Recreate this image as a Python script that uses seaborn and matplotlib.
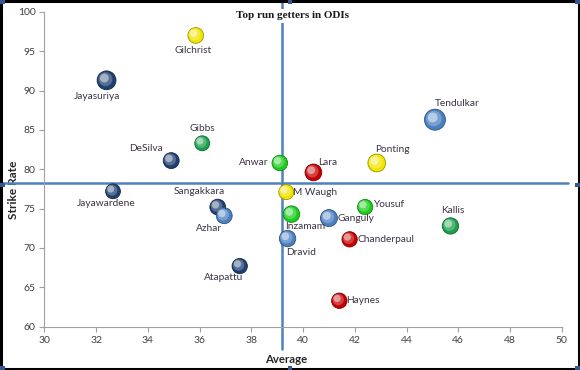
import numpy as np
import pandas as pd
import matplotlib
matplotlib.use("Agg")
import matplotlib.pyplot as plt
import matplotlib.transforms as mtransforms
from matplotlib.colors import to_rgb
import seaborn as sns

# data
players = ["Jayasuriya", "Gilchrist", "Gibbs", "DeSilva", "Anwar", "Lara", "Ponting",
           "Tendulkar", "Jayawardene", "Sangakkara", "Azhar", "Atapattu", "M Waugh",
           "Inzamam", "Dravid", "Ganguly", "Yousuf", "Chanderpaul", "Haynes", "Kallis"]
average = [32.4, 35.85, 36.1, 34.9, 39.1, 40.4, 42.85, 45.1, 32.65, 36.7, 36.95, 37.55,
           39.35, 39.55, 39.4, 41.0, 42.4, 41.8, 41.4, 45.7]
strike_rate = [91.3, 97.0, 83.3, 81.1, 80.8, 79.6, 80.8, 86.3, 77.2, 75.2, 74.1, 67.7,
               77.1, 74.3, 71.2, 73.8, 75.2, 71.1, 63.3, 72.8]
runs_k = [12.9, 9.0, 8.1, 9.2, 8.8, 10.2, 11.5, 16.0, 8.0, 9.0, 9.2, 8.5, 8.2, 9.9,
          9.8, 10.5, 8.5, 8.5, 8.6, 9.7]
team = ["Sri Lanka", "Australia", "South Africa", "Sri Lanka", "Pakistan", "West Indies",
        "Australia", "India", "Sri Lanka", "Sri Lanka", "India", "Sri Lanka", "Australia",
        "Pakistan", "India", "India", "Pakistan", "West Indies", "West Indies", "South Africa"]
avg_ref = 39.2
sr_ref = 78.3

df = pd.DataFrame({"player": players, "average": average, "strike_rate": strike_rate,
                   "runs": runs_k, "team": team})

palette = {"Sri Lanka": "#1f3f70", "India": "#4a7fc0", "Australia": "#f0e400",
           "Pakistan": "#1ccc1c", "South Africa": "#1c9e4c", "West Indies": "#c40000"}

# label placement (offset in points, alignment)
label_pos = {
    "Jayasuriya": (-7, -11.5, "center"), "Gilchrist": (-2, -11, "center"),
    "Gibbs": (0, 11, "center"), "DeSilva": (-6, 9, "right"), "Anwar": (-8.5, 0.5, "right"),
    "Lara": (3.5, 7, "left"), "Ponting": (-1.5, 9.5, "left"), "Tendulkar": (0, 12, "left"),
    "Jayawardene": (-5, -9, "center"), "Sangakkara": (-13, 11, "center"),
    "Azhar": (-11, -9, "center"), "Atapattu": (-11.5, -8, "center"),
    "M Waugh": (4.5, 0, "left"), "Inzamam": (-4.5, -9, "left"), "Dravid": (-1, -10, "left"),
    "Ganguly": (6.5, -0.5, "left"), "Yousuf": (6, 1.5, "left"),
    "Chanderpaul": (6, 0, "left"), "Haynes": (5, 0.5, "left"), "Kallis": (1.5, 11, "center"),
}

sns.set_style("white")
plt.rcParams["font.family"] = ["Lato", "DejaVu Sans"]

fig = plt.figure(figsize=(5.8, 3.7), dpi=100)
ax = fig.add_axes([0.0767, 0.117, 0.8917, 0.851])

# reference lines (drawn past the plot area like the original)
ax.plot([avg_ref, avg_ref], [57.2, 101.6], color="#4f81bd", lw=1.8, clip_on=False, zorder=1)
ax.plot([28.4, 50.25], [sr_ref, sr_ref], color="#4f81bd", lw=1.8, clip_on=False, zorder=1)

sns.scatterplot(data=df, x="average", y="strike_rate", hue="team", palette=palette,
                size="runs", sizes=(0, 228), size_norm=(0, 16), legend=False,
                edgecolor="none", ax=ax, zorder=3)

# fake sphere shading
def mix(c, w, t):
    c = np.array(to_rgb(c))
    return tuple(c * (1 - t) + np.array(to_rgb(w)) * t)

for _, r in df.iterrows():
    base = palette[r["team"]]
    s = r["runs"] * 14.25
    ax.scatter(r["average"], r["strike_rate"], s=s, facecolor="none",
               edgecolor=mix(base, "black", 0.35), linewidth=0.6, zorder=3)
    for k, (frac, t, off) in enumerate([(0.55, 0.25, 0.8), (0.22, 0.6, 1.6)]):
        tr = mtransforms.offset_copy(ax.transData, fig=fig, x=-off, y=off, units="points")
        ax.scatter(r["average"], r["strike_rate"], s=s * frac, color=mix(base, "white", t),
                   edgecolor="none", transform=tr, zorder=4 + k)

for _, r in df.iterrows():
    dx, dy, ha = label_pos[r["player"]]
    ax.annotate(r["player"], (r["average"], r["strike_rate"]), xytext=(dx, dy),
                textcoords="offset points", ha=ha, va="center", fontsize=7.3,
                color="#3c3246", zorder=6)

ax.set_xlim(30, 50)
ax.set_ylim(60, 100)
ax.set_xticks(np.arange(30, 51, 2))
ax.set_yticks(np.arange(60, 101, 5))
ax.tick_params(axis="both", direction="out", length=3.5, width=0.8, color="#a0a0a0",
               labelsize=7.5, labelcolor="#404040", pad=3, bottom=True, left=True)
for side in ["top", "right"]:
    ax.spines[side].set_visible(False)
for side in ["left", "bottom"]:
    ax.spines[side].set_color("#a0a0a0")
    ax.spines[side].set_linewidth(0.8)

ax.set_xlabel("Average", fontsize=8.2, fontweight="bold", color="#262626")
ax.set_ylabel("Strike Rate", fontsize=8.6, fontweight="bold", color="#262626")
ax.xaxis.set_label_coords(0.467, -0.088)
ax.yaxis.set_label_coords(-0.05, 0.434)
fig.text(0.505, 0.957, "Top run getters in ODIs", ha="center", va="center", fontsize=8,
         fontweight="bold", family="Liberation Serif", color="#1a1a1a",
         bbox=dict(facecolor="white", edgecolor="none", pad=1.5), zorder=10)

# chart border and handles
fig.patches.append(plt.Rectangle((0.0015, 0.002), 0.997, 0.996, transform=fig.transFigure,
                                 fill=False, edgecolor="black", linewidth=2.2))
for hx, hy in [(0.004, 0.006), (0.996, 0.006), (0.004, 0.994), (0.996, 0.994),
               (0.5, 0.994), (0.996, 0.5), (0.5, 0.006), (0.004, 0.5)]:
    fig.patches.append(plt.Rectangle((hx - 0.004, hy - 0.006), 0.008, 0.012,
                                     transform=fig.transFigure, facecolor="#34568a",
                                     edgecolor="none", zorder=11))

fig.savefig("out.png", dpi=100)
